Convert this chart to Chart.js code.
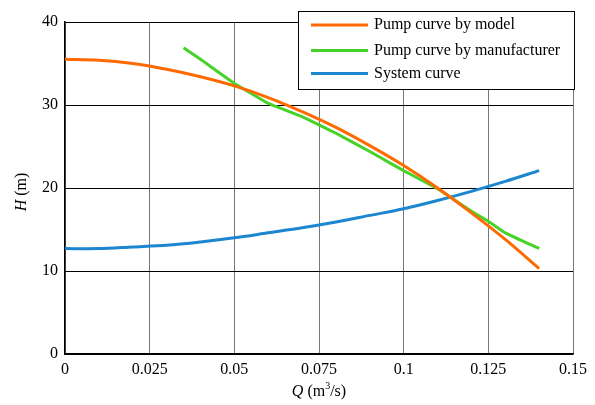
<!DOCTYPE html>
<html>
<head>
<meta charset="utf-8">
<script src="https://cdn.jsdelivr.net/npm/chart.js@4/dist/chart.umd.min.js"></script>
<style>
  html, body { margin: 0; padding: 0; background: #fff; }
</style>
</head>
<body>
<canvas id="grafico" width="595" height="405"></canvas>
<script>
// Curva da bomba pelo modelo
const qModel = [0, 0.01, 0.02, 0.03, 0.04, 0.05, 0.06, 0.07, 0.08, 0.09, 0.1, 0.11, 0.12, 0.13, 0.14];
const hModel = [35.5, 35.4, 35.0, 34.3, 33.4, 32.3, 30.9, 29.2, 27.3, 25.1, 22.7, 20.0, 17.0, 13.8, 10.3];

// Curva da bomba pelo fabricante
const qFab = [0.035, 0.04, 0.05, 0.055, 0.06, 0.07, 0.075, 0.08, 0.09, 0.096, 0.1, 0.11, 0.12, 0.125, 0.13, 0.14];
const hFab = [36.9, 35.5, 32.6, 31.4, 30.2, 28.6, 27.6, 26.6, 24.4, 23.0, 22.1, 19.9, 17.2, 16.0, 14.6, 12.7];

// Curva do sistema
const qSis = [0, 0.01, 0.02, 0.03, 0.04, 0.05, 0.06, 0.07, 0.08, 0.09, 0.1, 0.11, 0.12, 0.13, 0.14];
const hSis = [12.7, 12.7, 12.9, 13.1, 13.5, 14.0, 14.6, 15.2, 15.9, 16.7, 17.5, 18.5, 19.6, 20.8, 22.1];

const xTickLabels = ['0', '0.025', '0.05', '0.075', '0.1', '0.125', '0.15'];
const yTickLabels = ['0', '10', '20', '30', '40'];
const seriesLabels = ['Pump curve by model', 'Pump curve by manufacturer', 'System curve'];
const seriesColors = ['#ff6a00', '#47d22a', '#1c87d0'];
const seriesTension = [0.3, 0.1, 0.3];

const fonte = '"Liberation Serif", "Times New Roman", serif';

function pontos(qs, hs) {
    return qs.map((q, i) => ({ x: q, y: hs[i] }));
}

// Legenda desenhada dentro da área do gráfico
const legendaPlugin = {
    id: 'legenda',
    afterDraw(chart) {
        const ctx = chart.ctx;
        const x0 = 298, y0 = 11, w = 276, h = 78;
        ctx.save();
        ctx.fillStyle = '#fff';
        ctx.fillRect(x0, y0, w, h);
        ctx.strokeStyle = '#000';
        ctx.lineWidth = 1;
        ctx.strokeRect(x0 + 0.5, y0 + 0.5, w, h);
        const linhas = [25, 50.5, 73.5];
        chart.data.datasets.forEach((ds, i) => {
            const y = linhas[i];
            ctx.strokeStyle = ds.borderColor;
            ctx.lineWidth = 3;
            ctx.beginPath();
            ctx.moveTo(311, y);
            ctx.lineTo(368, y);
            ctx.stroke();
            ctx.fillStyle = '#000';
            ctx.font = '16px ' + fonte;
            ctx.textBaseline = 'middle';
            ctx.fillText(ds.label, 374, y);
        });
        ctx.restore();
    }
};

// Títulos dos eixos com letra em itálico
const titulosPlugin = {
    id: 'titulos',
    afterDraw(chart) {
        const ctx = chart.ctx;
        const area = chart.chartArea;
        ctx.save();
        ctx.fillStyle = '#000';
        ctx.textBaseline = 'middle';

        // eixo x: Q (m3/s)
        ctx.font = 'italic 16px ' + fonte;
        const tQ = 'Q';
        const wQ = ctx.measureText(tQ).width;
        ctx.font = '16px ' + fonte;
        const t1 = ' (m';
        const w1 = ctx.measureText(t1).width;
        const t2 = '/s)';
        const w2 = ctx.measureText(t2).width;
        ctx.font = '10px ' + fonte;
        const w3 = ctx.measureText('3').width;
        const total = wQ + w1 + w3 + w2;
        let x = (area.left + area.right) / 2 - total / 2;
        const y = 392;
        ctx.font = 'italic 16px ' + fonte;
        ctx.fillText(tQ, x, y); x += wQ;
        ctx.font = '16px ' + fonte;
        ctx.fillText(t1, x, y); x += w1;
        ctx.font = '10px ' + fonte;
        ctx.fillText('3', x, y - 6); x += w3;
        ctx.font = '16px ' + fonte;
        ctx.fillText(t2, x, y);

        // eixo y: H (m)
        ctx.translate(22, (area.top + area.bottom) / 2 + 4);
        ctx.rotate(-Math.PI / 2);
        ctx.font = 'italic 16px ' + fonte;
        const wH = ctx.measureText('H').width;
        ctx.font = '16px ' + fonte;
        const wm = ctx.measureText(' (m)').width;
        let xx = -(wH + wm) / 2;
        ctx.font = 'italic 16px ' + fonte;
        ctx.fillText('H', xx, 0);
        ctx.font = '16px ' + fonte;
        ctx.fillText(' (m)', xx + wH, 0);
        ctx.restore();
    }
};

const series = [[qModel, hModel], [qFab, hFab], [qSis, hSis]];

new Chart(document.getElementById('grafico').getContext('2d'), {
    type: 'line',
    data: {
        datasets: series.map((s, i) => ({
            label: seriesLabels[i],
            data: pontos(s[0], s[1]),
            borderColor: seriesColors[i],
            backgroundColor: seriesColors[i],
            borderWidth: 3,
            pointRadius: 0,
            tension: seriesTension[i],
            fill: false
        }))
    },
    options: {
        responsive: false,
        animation: false,
        layout: { padding: { left: 0, right: 22, top: 22, bottom: 0 } },
        plugins: {
            legend: { display: false },
            tooltip: { enabled: false }
        },
        scales: {
            x: {
                type: 'linear',
                min: 0,
                max: 0.15,
                afterFit(scale) { scale.height = 51; },
                ticks: {
                    stepSize: 0.025,
                    padding: 6,
                    color: '#000',
                    font: { family: fonte, size: 16 },
                    callback: (v, i) => xTickLabels[i]
                },
                grid: { color: '#777', lineWidth: 1, drawTicks: false },
                border: { color: '#000', width: 1.5 }
            },
            y: {
                min: 0,
                max: 40,
                afterFit(scale) { scale.width = 65; },
                ticks: {
                    stepSize: 10,
                    padding: 7,
                    color: '#000',
                    font: { family: fonte, size: 16 },
                    callback: (v, i) => yTickLabels[i]
                },
                grid: { color: '#000', lineWidth: 1, drawTicks: false },
                border: { color: '#000', width: 1.5 }
            }
        }
    },
    plugins: [legendaPlugin, titulosPlugin]
});
</script>
</body>
</html>
